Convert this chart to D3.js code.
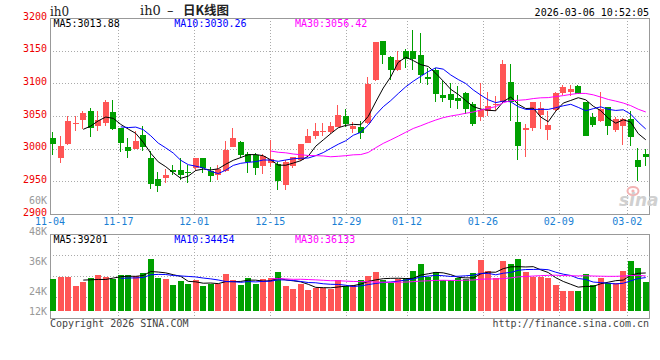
<!DOCTYPE html>
<html><head><meta charset="utf-8">
<script src="https://cdn.jsdelivr.net/npm/d3@7"></script>
<style>
body{margin:0;background:#fff}
svg{display:block}
text{font-family:"DejaVu Sans Mono","Liberation Mono",monospace;font-size:10px}
</style>
</head><body>
<svg id="chart" width="660" height="360"></svg>
<script>
// ---------------- data ----------------
const tickLabels = ["11-04","11-17","12-01","12-15","12-29","01-12","01-26","02-09","03-02"];
const tickIndex  = [0, 9, 19, 29, 39, 47, 57, 67, 76];

const opens = [3017,2986,3007,3037,3044,3058,3035,3039,3056,3031,
  3002,2999,3021,2986,2954,2955,2968,2968,2965,2970,
  2986,2966,2960,2966,3003,3010,2992,2990,2974,2978,
  2976,2945,2974,2982,3009,3020,3025,3026,3033,3050,
  3030,3033,3039,3105,3165,3140,3121,3149,3150,3144,
  3110,3121,3082,3083,3077,3085,3069,3049,3058,3067,
  3072,3102,3041,3029,3031,3051,3029,3059,3085,3087,
  3096,3072,3049,3043,3064,3029,3035,3045,2983,2992];
const closes = [3007,3004,3042,3040,3055,3032,3044,3071,3030,3009,
  2996,3011,3003,2946,2943,2959,2965,2960,2963,2986,
  2970,2958,2969,2998,3016,2991,2980,2970,2989,2984,
  2951,2979,2987,3007,3019,3027,3027,3035,3052,3037,
  3035,3024,3099,3163,3143,3121,3135,3138,3137,3112,
  3107,3083,3078,3074,3073,3060,3037,3059,3065,3069,
  3130,3072,3004,3032,3072,3062,3036,3085,3094,3092,
  3083,3020,3036,3060,3034,3045,3046,3018,2972,2987];
const highs = [3026,3020,3050,3050,3058,3062,3057,3075,3074,3031,
  3016,3027,3034,2997,2964,2969,2975,2986,2975,2986,
  2986,2972,2975,3012,3031,3012,2995,2993,2992,3014,
  2980,2982,2988,3007,3030,3040,3040,3041,3067,3060,
  3041,3042,3109,3163,3165,3142,3149,3153,3181,3177,
  3124,3124,3103,3101,3096,3087,3072,3100,3087,3080,
  3136,3129,3082,3037,3072,3072,3058,3087,3097,3098,
  3098,3072,3055,3086,3064,3049,3047,3057,3001,3000];
const lows = [2991,2978,3006,3027,3030,3018,3027,3034,3028,2995,
  2986,2999,2996,2939,2934,2947,2960,2952,2947,2966,
  2963,2949,2952,2964,3002,2986,2962,2959,2961,2972,
  2936,2936,2970,2981,3009,3015,3020,3023,3033,3033,
  3024,3015,3038,3104,3130,3105,3119,3123,3121,3101,
  3097,3072,3072,3063,3060,3053,3035,3043,3050,3058,
  3070,3043,2983,2988,3027,3030,3014,3058,3082,3080,
  3083,3019,3033,3041,3021,3026,3006,3004,2950,2974];
const volumes = [33400,35800,35800,26100,30600,34800,37600,35800,33400,37600,
  37600,36900,40000,54300,34800,33400,27200,31400,28200,32400,
  26100,28200,28200,38700,32400,27200,34800,28200,33400,34800,
  40400,26100,23000,28200,21900,24400,24400,22500,32400,26100,
  27200,32400,36600,40400,32400,28900,33100,34800,41800,49100,
  35800,40400,32400,32400,34800,33400,40000,53300,41800,34200,
  52300,49100,54300,40400,35800,35800,34800,27200,20900,20900,
  20900,38700,27200,34800,28900,28900,41800,52300,45200,30600];

const priceTicks = [3200,3150,3100,3050,3000,2950,2900];
const volTickValues = [60000,48000,36000,24000,12000];
const volTickLabels = ["60K","48K","36K","24K","12K"];

const priceMALabels = ["MA5:3013.88","MA10:3030.26","MA30:3056.42"];
const volMALabels   = ["MA5:39201","MA10:34454","MA30:36133"];
const maPeriods = [5,10,30];
const maColors = ["#000000","#0000ff","#ff00ff"];

const UP = "#ff5555", DOWN = "#00a000";

// ---------------- layout ----------------
const svg = d3.select("#chart");
svg.append("rect").attr("width",660).attr("height",360).attr("fill","#fff");

const L = 50, R = 649.5;
const mainTop = 18, mainBot = 214;
const volTop = 234.3, volBot = 318.3, volBase = 311;

const n = closes.length;
const xBand = d3.scaleBand().domain(d3.range(n)).range([49.5, 649.5]);
const xGrid = d3.scalePoint().domain(d3.range(n)).range([50, 650]);
const y  = d3.scaleLinear().domain([2900, 3200]).range([mainBot, mainTop]);
const yv = d3.scaleLinear().domain([0, 80000]).range([volBase, 234.5]);
const yvLabel = d3.scaleLinear().domain([24000, 60000]).range([291.3, 200.8]);

const px = v => Math.round(v) + 0.5;

// ---------------- grid ----------------
const grid = svg.append("g").attr("stroke","#aaa").attr("stroke-dasharray","1,2")
  .attr("shape-rendering","crispEdges").attr("fill","none");
priceTicks.filter(v => v < 3200 && v > 2900).forEach(v => {
  grid.append("line").attr("x1",L).attr("x2",R).attr("y1",px(y(v))).attr("y2",px(y(v)));
});
tickIndex.filter(i => i > 0).forEach(i => {
  const gx = px(xGrid(i));
  grid.append("line").attr("x1",gx).attr("x2",gx).attr("y1",mainTop).attr("y2",mainBot);
  grid.append("line").attr("x1",gx).attr("x2",gx).attr("y1",volTop).attr("y2",volBot);
});
d3.range(1,4).forEach(k => {
  const gy = px(volTop + k*(volBot-volTop)/4);
  grid.append("line").attr("x1",L).attr("x2",R).attr("y1",gy).attr("y2",gy);
});

// ---------------- borders ----------------
svg.append("rect").attr("x",50.5).attr("y",18.5).attr("width",599).attr("height",196)
  .attr("fill","none").attr("stroke","#999").attr("shape-rendering","crispEdges");
svg.append("rect").attr("x",50.5).attr("y",234.5).attr("width",599).attr("height",84)
  .attr("fill","none").attr("stroke","#999").attr("shape-rendering","crispEdges");

// ---------------- candles ----------------
const cg = svg.append("g").attr("shape-rendering","crispEdges");
d3.range(n).forEach(i => {
  const o = opens[i], c = closes[i];
  const col = c >= o ? UP : DOWN;
  const bl = Math.round(xBand(i) + 0.5);
  const yh = Math.round(y(highs[i])), yl = Math.round(y(lows[i]));
  cg.append("rect").attr("x", bl + 2).attr("width",1)
    .attr("y", yh).attr("height", Math.max(1, yl - yh)).attr("fill", col);
  const yt = Math.round(y(Math.max(o,c))), yb = Math.round(y(Math.min(o,c)));
  cg.append("rect").attr("x", bl).attr("width", 6)
    .attr("y", yt).attr("height", Math.max(1, yb - yt)).attr("fill", col);
});

// ---------------- volume bars ----------------
const vg = svg.append("g").attr("shape-rendering","crispEdges");
d3.range(n).forEach(i => {
  const col = closes[i] >= opens[i] ? UP : DOWN;
  const bl = Math.round(xBand(i) + 0.5);
  const top = Math.round(yv(volumes[i]));
  vg.append("rect").attr("x", bl).attr("width", 6).attr("y", top)
    .attr("height", Math.round(yv(0)) - top).attr("fill", col);
});

// ---------------- moving averages ----------------
function movingAvg(arr, p) {
  const out = [];
  for (let i = p - 1; i < arr.length; i++) {
    out.push({i, v: d3.mean(arr.slice(i - p + 1, i + 1))});
  }
  return out;
}
const cx = i => xBand(i) + xBand.bandwidth()/2;
maPeriods.forEach((p, k) => {
  svg.append("path").datum(movingAvg(closes, p))
    .attr("d", d3.line().x(d => cx(d.i)).y(d => y(d.v)))
    .attr("fill","none").attr("stroke", maColors[k]).attr("stroke-width",1);
  svg.append("path").datum(movingAvg(volumes, p))
    .attr("d", d3.line().x(d => cx(d.i)).y(d => yv(d.v)))
    .attr("fill","none").attr("stroke", maColors[k]).attr("stroke-width",1);
});

// ---------------- axis labels ----------------
priceTicks.forEach(v => {
  svg.append("text").attr("x",47).attr("y", y(v) + 1.6).attr("text-anchor","end")
    .attr("fill","#ee0000").text(v);
});
tickIndex.forEach((i, k) => {
  svg.append("text").attr("x", xGrid(i)).attr("y", 224.6).attr("text-anchor","middle")
    .attr("fill","#1a7fd4").text(tickLabels[k]);
});
volTickValues.forEach((v, k) => {
  const cy = Math.min(yvLabel(v), 311.5);
  svg.append("text").attr("x",47).attr("y", cy + 3.6).attr("text-anchor","end")
    .attr("fill","#999").text(volTickLabels[k]);
});

// MA legends
const legendX = [53.5, 174.3, 295];
priceMALabels.forEach((t, k) => {
  svg.append("text").attr("x", legendX[k]).attr("y", 27.3).attr("fill", maColors[k]).text(t);
});
volMALabels.forEach((t, k) => {
  svg.append("text").attr("x", legendX[k]).attr("y", 242.6).attr("fill", maColors[k]).text(t);
});

// header
svg.append("text").attr("x",50).attr("y",15.5)
  .style("font-family","'DejaVu Serif',serif").style("font-size","12px").attr("fill","#222").text("ih0");
const title = svg.append("text").attr("y",14.5).attr("fill","#222");
title.append("tspan").attr("x",140).style("font-family","'DejaVu Serif',serif").style("font-size","13px").text("ih0");
title.append("tspan").attr("x",167).style("font-family","'DejaVu Sans'").style("font-size","13px").text("–");
title.append("tspan").attr("x",183).style("font-family","'Noto Sans CJK SC'").style("font-size","12.5px")
  .style("font-weight","bold").text("日K线图");
svg.append("text").attr("x",649).attr("y",15.6).attr("text-anchor","end").attr("fill","#000")
  .text("2026-03-06 10:52:05");

// footer
svg.append("text").attr("x",50).attr("y",327.3).attr("fill","#444").text("Copyright 2026 SINA.COM");
svg.append("text").attr("x",649).attr("y",327.3).attr("text-anchor","end").attr("fill","#444")
  .text("http://finance.sina.com.cn");

// watermark
const wm = svg.append("g");
wm.append("ellipse").attr("cx",633).attr("cy",191).attr("rx",5.5).attr("ry",4)
  .attr("fill","none").attr("stroke","#f2b3b3").attr("stroke-width",2);
wm.append("circle").attr("cx",633).attr("cy",191).attr("r",1.6).attr("fill","#f2b3b3");
wm.append("text").attr("x",619).attr("y",206)
  .style("font-family","'DejaVu Sans'").style("font-size","17px").style("font-style","italic")
  .style("font-weight","bold").attr("fill","#d0d0d0").text("sina");
</script>
</body></html>
